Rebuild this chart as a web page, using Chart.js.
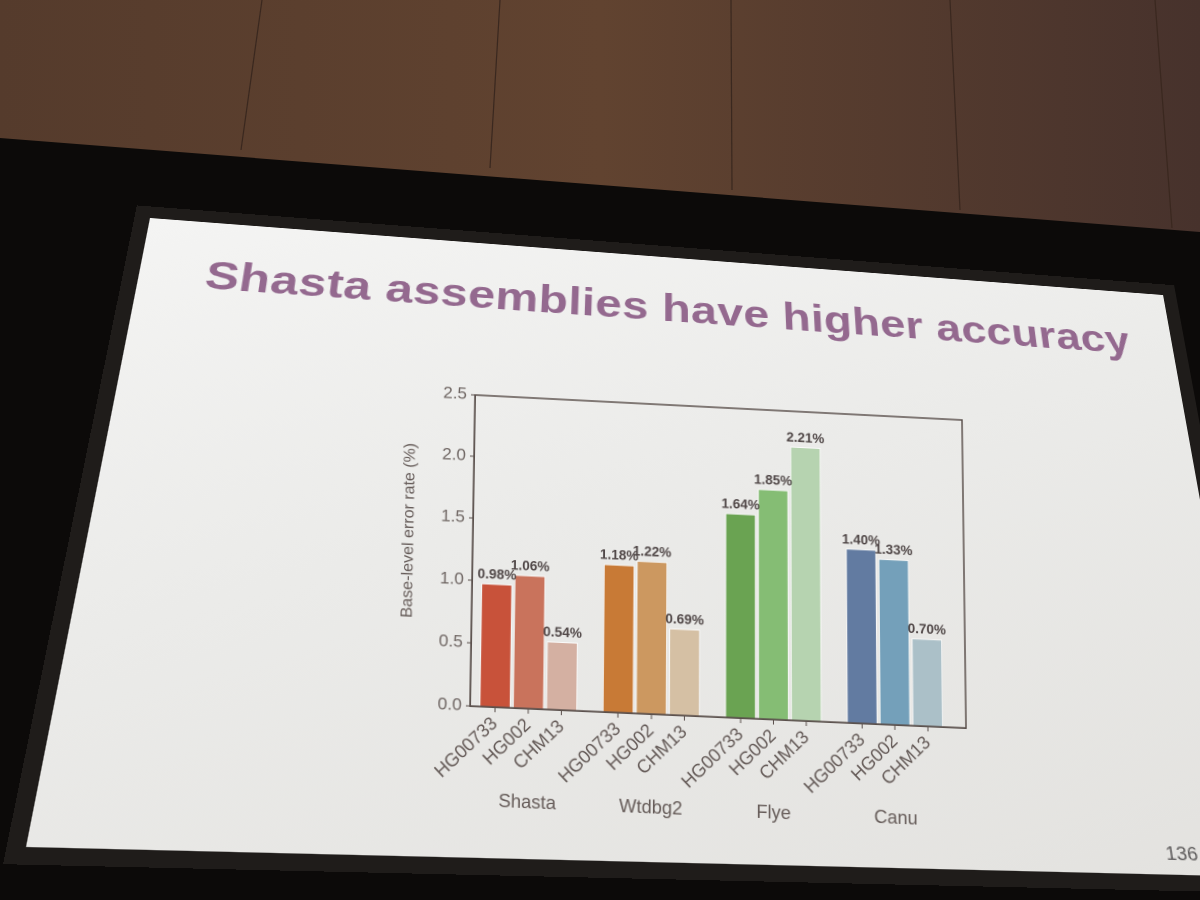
<!DOCTYPE html>
<html>
<head>
<meta charset="utf-8">
<script src="https://cdn.jsdelivr.net/npm/chart.js@4.4.1/dist/chart.umd.min.js"></script>
<style>
  html, body { margin: 0; padding: 0; }
  body { width: 1200px; height: 900px; overflow: hidden; background: #0c0a09; position: relative; font-family: "Liberation Sans", Arial, sans-serif; }
  #scene { position: absolute; left: 0; top: 0; }
  #slide {
    position: absolute; left: 0; top: 0;
    width: 1000px; height: 620px;
    transform-origin: 0 0;
    background: linear-gradient(160deg, #f4f4f3 0%, #ebebe9 45%, #e3e2df 100%);
    box-shadow: 0 0 0 14px #1f1c1a;
  }
  #title {
    position: absolute; left: -3px; width: 1020px; top: 37px;
    text-align: center; font-weight: bold; font-size: 45.5px;
    color: #94698f; letter-spacing: 0.3px;
  }
  #pageNo { position: absolute; left: 912px; top: 592px; font-size: 17px; color: #5c5a5a; }
  #chartBox { position: absolute; left: 0; top: 0; width: 600px; height: 465px; transform-origin: 0 0; }
</style>
</head>
<body>
<svg id="scene" width="1200" height="900">
  <defs>
    <linearGradient id="wall" x1="0" y1="0" x2="1" y2="0">
      <stop offset="0" stop-color="#553b2c"/>
      <stop offset="0.5" stop-color="#614330"/>
      <stop offset="1" stop-color="#47322c"/>
    </linearGradient>
  </defs>
  <polygon points="0,0 1200,0 1200,232 0,138" fill="url(#wall)"/>
  <g stroke="#3a281f" stroke-width="1.2">
    <line x1="262" y1="0" x2="241" y2="150"/>
    <line x1="500" y1="0" x2="490" y2="168"/>
    <line x1="731" y1="0" x2="732" y2="190"/>
    <line x1="950" y1="0" x2="960" y2="210"/>
    <line x1="1155" y1="0" x2="1172" y2="228"/>
  </g>
</svg>

<div id="slide">
  <div id="title">Shasta assemblies have higher accuracy</div>
  <div id="pageNo">136</div>
</div>
<div id="chartBox"><canvas id="errChart"></canvas></div>

<script>
// values (labels above the bars)
const groups = ['Shasta', 'Wtdbg2', 'Flye', 'Canu'];
const samples = ['HG00733', 'HG002', 'CHM13'];
const shasta = [0.98, 1.06, 0.54];
const wtdbg2 = [1.18, 1.22, 0.69];
const flye = [1.64, 1.85, 2.21];
const canu = [1.40, 1.33, 0.70];
const yTicks = [0, 0.5, 1.0, 1.5, 2.0, 2.5];

const shastaColors = ['#c8523a', '#c9735c', '#d4b0a2'];
const wtdbg2Colors = ['#c87a36', '#cc9860', '#d5c0a4'];
const flyeColors = ['#6aa352', '#85bd74', '#b6d3b0'];
const canuColors = ['#627ba1', '#74a0ba', '#abc0c8'];

const axisColor = '#5b504d';
const textColor = '#655b58';
const fontFamily = '"Liberation Sans", Arial, sans-serif';

// slide corners in the photo: top-left, top-right, bottom-right, bottom-left
const slideCorners = [[150, 218], [1163, 295], [1268, 877], [26, 847]];
// plot frame corners in the photo
const plotCorners = [[475, 395], [962, 420], [966, 728], [470, 706]];

function quadMatrix(w, h, p) {
  const [x0, y0] = p[0], [x1, y1] = p[1], [x2, y2] = p[2], [x3, y3] = p[3];
  const dx1 = x1 - x2, dx2 = x3 - x2, dx3 = x0 - x1 + x2 - x3;
  const dy1 = y1 - y2, dy2 = y3 - y2, dy3 = y0 - y1 + y2 - y3;
  const den = dx1 * dy2 - dx2 * dy1;
  const g = (dx3 * dy2 - dx2 * dy3) / den;
  const hh = (dx1 * dy3 - dx3 * dy1) / den;
  const a = x1 - x0 + g * x1, b = x3 - x0 + hh * x3;
  const d = y1 - y0 + g * y1, e = y3 - y0 + hh * y3;
  return 'matrix3d(' + [a / w, d / w, 0, g / w, b / h, e / h, 0, hh / h, 0, 0, 1, 0, x0, y0, 0, 1].join(',') + ')';
}
document.getElementById('slide').style.transform = quadMatrix(1000, 620, slideCorners);
// chart area sits at (90,30)-(580,340) inside the 600x465 box
document.getElementById('chartBox').style.transform = quadMatrix(490, 310, plotCorners) + ' translate(-90px,-30px)';

// each bar gets a slot; groups are a bit wider apart than the bars
const groupStride = 3.7;
const groupValues = [shasta, wtdbg2, flye, canu];
const groupColors = [shastaColors, wtdbg2Colors, flyeColors, canuColors];
let points = [], colors = [], slotName = {}, groupAt = {};
groups.forEach((g, i) => {
  samples.forEach((s, j) => {
    const slot = i * groupStride + j;
    points.push({ x: slot, y: groupValues[i][j] });
    colors.push(groupColors[i][j]);
    slotName[slot] = s;
    if (j === 1) groupAt[slot] = g;
  });
});
const xMin = -0.75, xMax = 14.27;

const valueLabels = {
  id: 'valueLabels',
  afterDatasetsDraw(chart) {
    const ctx = chart.ctx;
    const meta = chart.getDatasetMeta(0);
    ctx.save();
    ctx.font = 'bold 13.5px ' + fontFamily;
    ctx.fillStyle = '#4f4646';
    ctx.textAlign = 'center';
    ctx.textBaseline = 'bottom';
    meta.data.forEach((bar, i) => {
      ctx.fillText(points[i].y.toFixed(2) + '%', bar.x, bar.y - 2);
    });
    ctx.restore();
  }
};

const frameAndTitle = {
  id: 'frameAndTitle',
  afterDraw(chart) {
    const a = chart.chartArea;
    const ctx = chart.ctx;
    ctx.save();
    ctx.strokeStyle = axisColor;
    ctx.lineWidth = 1.5;
    ctx.strokeRect(a.left, a.top, a.right - a.left, a.bottom - a.top);
    // y axis title, sitting a little above the middle as on the slide
    ctx.translate(a.left - 63, (a.top + a.bottom) / 2 - 16);
    ctx.rotate(-Math.PI / 2);
    ctx.font = '16px ' + fontFamily;
    ctx.fillStyle = textColor;
    ctx.textAlign = 'center';
    ctx.textBaseline = 'middle';
    ctx.fillText('Base-level error rate (%)', 0, 0);
    ctx.restore();
  }
};

new Chart(document.getElementById('errChart'), {
  type: 'bar',
  data: {
    datasets: [{
      data: points,
      backgroundColor: colors,
      borderColor: 'rgba(255,255,255,0.75)',
      borderWidth: 1,
      barPercentage: 0.94,
      categoryPercentage: 1.0
    }]
  },
  options: {
    responsive: true,
    maintainAspectRatio: false,
    animation: false,
    devicePixelRatio: 2,
    layout: { padding: { top: 30, right: 20, left: 0, bottom: 0 } },
    plugins: { legend: { display: false }, tooltip: { enabled: false } },
    scales: {
      x: {
        type: 'linear',
        min: xMin,
        max: xMax,
        offset: false,
        afterFit(axis) { axis.height = 78; },
        afterBuildTicks(axis) { axis.ticks = points.map(p => ({ value: p.x })); },
        grid: { offset: false, drawOnChartArea: false, tickLength: 5, color: axisColor },
        border: { display: true, color: axisColor, width: 1.5 },
        ticks: {
          autoSkip: false, minRotation: 45, maxRotation: 45, padding: 1,
          color: textColor, font: { family: fontFamily, size: 18 },
          callback: (v) => slotName[v] || ''
        }
      },
      x2: {
        type: 'linear',
        position: 'bottom',
        min: xMin,
        max: xMax,
        offset: false,
        afterFit(axis) { axis.height = 47; },
        afterBuildTicks(axis) { axis.ticks = groups.map((g, i) => ({ value: i * groupStride + 1 })); },
        grid: { display: false, drawTicks: false, offset: false },
        border: { display: false },
        ticks: {
          autoSkip: false, maxRotation: 0, padding: 3,
          color: textColor, font: { family: fontFamily, size: 18 },
          callback: (v) => groupAt[v] || ''
        }
      },
      y: {
        min: 0,
        max: 2.5,
        afterFit(axis) { axis.width = 90; },
        afterBuildTicks(axis) { axis.ticks = yTicks.map(v => ({ value: v })); },
        grid: { drawOnChartArea: false, tickLength: 4, color: axisColor },
        border: { display: true, color: axisColor, width: 1.5 },
        ticks: {
          padding: 4, color: '#6f6663', font: { family: fontFamily, size: 17 },
          callback: (v) => Number(v).toFixed(1)
        }
      }
    }
  },
  plugins: [valueLabels, frameAndTitle]
});
</script>
</body>
</html>
